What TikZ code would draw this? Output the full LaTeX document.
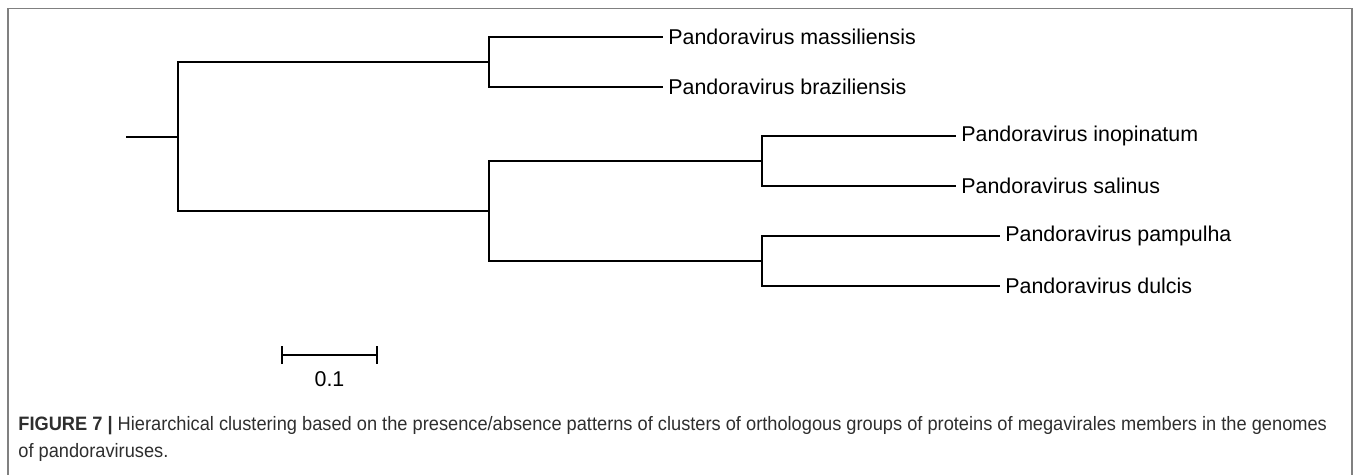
\documentclass[tikz,border=0pt]{standalone}
\usepackage{fontspec}
\setmainfont{Liberation Sans}
\newfontfamily\capfont[FakeStretch=0.94]{Liberation Sans}
\usetikzlibrary{arrows.meta,positioning}
\definecolor{FrameGray}{HTML}{808080}
\definecolor{CaptionInk}{HTML}{2E2E2E}

\begin{document}
\begin{tikzpicture}[x=0.5pt, y=-0.5pt, font=\fontsize{10.7}{12.8}\selectfont,
  branch/.style={line width=1pt, line join=miter},
  leaf/.style={anchor=west, inner sep=2.5pt},
  captext/.style={anchor=base west, inner sep=0pt, text=CaptionInk, font=\capfont\fontsize{9.7}{12}\selectfont}]
  \useasboundingbox (0,0) rectangle (1358,475);
  \draw[FrameGray, line width=0.7pt] (8,475) -- (8,8.5) -- (1352,8.5) -- (1352,475);

  % inner nodes of the tree
  \coordinate (root) at (126,137);
  \coordinate (n0) at (178,137);
  \coordinate (nA) at (489,62);
  \coordinate (nB) at (489,211);
  \coordinate (nC) at (762,161);
  \coordinate (nD) at (762,261);

  % leaves
  \node[leaf] (massil)  at (663,37)  {Pandoravirus massiliensis};
  \node[leaf] (brazil)  at (663,87)  {Pandoravirus braziliensis};
  \node[leaf] (inopin)  at (956,136) {Pandoravirus inopinatum};
  \node[leaf] (salin)   at (956,186) {Pandoravirus salinus};
  \node[leaf] (pampul)  at (1000,236) {Pandoravirus pampulha};
  \node[leaf] (dulc)    at (1000,286) {Pandoravirus dulcis};

  \draw[branch] (root) -- (n0);
  \foreach \from/\to in {n0/nA, n0/nB, nA/massil.west, nA/brazil.west,
                         nB/nC, nB/nD, nC/inopin.west, nC/salin.west,
                         nD/pampul.west, nD/dulc.west}
    \draw[branch] (\from) |- (\to);

  % scale bar
  \coordinate (sbL) at (281,355);
  \coordinate (sbR) at (378,355);
  \draw[branch, {Bar[width=9pt]}-{Bar[width=9pt]}] (sbL) -- (sbR);
  \node (sbtext) at (329.5,379) {0.1};

  % caption
  \node[captext] (capA) at (18,430) {\textbf{FIGURE 7 |} Hierarchical clustering based on the presence/absence patterns of clusters of orthologous groups of proteins of megavirales members in the genomes};
  \node[captext] (capB) at (18,457) {of pandoraviruses.};
\end{tikzpicture}
\end{document}
